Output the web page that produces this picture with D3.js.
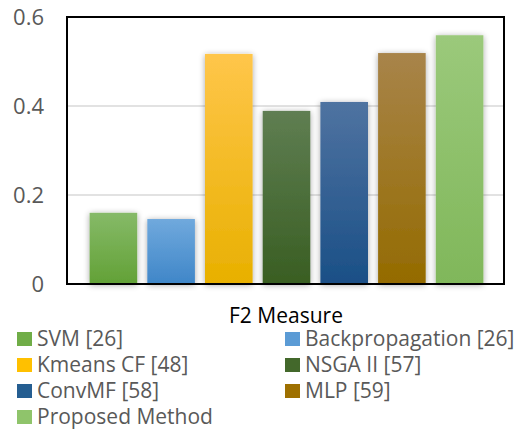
<!DOCTYPE html>
<html><head><meta charset="utf-8">
<script src="https://cdn.jsdelivr.net/npm/d3@7"></script>
<style>body{margin:0;background:#fff}svg{display:block}</style>
</head><body>
<svg id="chart" width="516" height="434"></svg>
<script>
const categories = ["SVM [26]","Backpropagation [26]","Kmeans CF [48]","NSGA II [57]","ConvMF [58]","MLP [59]","Proposed Method"];
const values = [0.16, 0.146, 0.517, 0.389, 0.409, 0.519, 0.559];
const yTicks = [0, 0.2, 0.4, 0.6];
const tickLabels = ["0","0.2","0.4","0.6"];
const xTitle = "F2 Measure";
const colorsTop = ["#86ba68","#70a9dd","#ffc64a","#5f7e52","#4f73a1","#a8844a","#9bc97b"];
const colorsBottom = ["#62a136","#3f86c8","#e8b000","#395e22","#1a4f86","#946b00","#80b75a"];
const legendColors = ["#70ad47","#5b9bd5","#ffc000","#43682b","#255e91","#9e7000","#8fc46b"];

const svg = d3.select("#chart");
const plot = {left:67, right:504, top:17, bottom:284};
const y = d3.scaleLinear().domain([0,0.6]).range([plot.bottom, plot.top]);
const x = d3.scaleBand().domain(categories).range([85,488]).paddingInner(0.175).paddingOuter(0.08);

const defs = svg.append("defs");
categories.forEach((c,i)=>{
  const g = defs.append("linearGradient").attr("id","g"+i).attr("x1",0).attr("y1",0).attr("x2",0).attr("y2",1);
  g.append("stop").attr("offset","0%").attr("stop-color",colorsTop[i]);
  g.append("stop").attr("offset","100%").attr("stop-color",colorsBottom[i]);
});
const f = defs.append("filter").attr("id","sh").attr("x","-30%").attr("y","-10%").attr("width","160%").attr("height","120%");
f.append("feGaussianBlur").attr("in","SourceAlpha").attr("stdDeviation",3).attr("result","b");
f.append("feOffset").attr("in","b").attr("dx",0).attr("dy",1).attr("result","o");
f.append("feComponentTransfer").attr("in","o").attr("result","o2").append("feFuncA").attr("type","linear").attr("slope",0.35);
const m = f.append("feMerge"); m.append("feMergeNode").attr("in","o2"); m.append("feMergeNode").attr("in","SourceGraphic");

// gridlines
svg.append("g").selectAll("line").data(yTicks.filter(t=>t>0 && t<0.6)).join("line")
  .attr("x1",plot.left).attr("x2",plot.right).attr("y1",d=>y(d)).attr("y2",d=>y(d))
  .attr("stroke","#d9d9d9").attr("stroke-width",1.5);

// bars
svg.append("g").selectAll("rect").data(values).join("rect")
  .attr("x",(d,i)=>x(categories[i])).attr("width",x.bandwidth())
  .attr("y",d=>y(d)).attr("height",d=>plot.bottom-y(d))
  .attr("fill",(d,i)=>"url(#g"+i+")").attr("filter","url(#sh)");

// plot border
svg.append("rect").attr("x",plot.left).attr("y",plot.top).attr("width",plot.right-plot.left).attr("height",plot.bottom-plot.top)
  .attr("fill","none").attr("stroke","#000").attr("stroke-width",2);

// y axis labels
const yAxis = d3.axisLeft(y).tickValues(yTicks).tickFormat((d,i)=>tickLabels[i]).tickSize(0).tickPadding(0);
const ga = svg.append("g").attr("transform","translate(44,0)").call(yAxis);
ga.select(".domain").remove();
ga.selectAll("text").attr("font-family","Open Sans, sans-serif").attr("font-size",22).attr("fill","#595959").attr("dy","0.35em");

// x title
svg.append("text").attr("x",286).attr("y",316).attr("dy","0.35em").attr("text-anchor","middle")
  .attr("font-family","Open Sans, sans-serif").attr("font-size",21).attr("fill","#000").text(xTitle);

// legend
const lg = svg.append("g");
categories.forEach((c,i)=>{
  const col = i%2, row = Math.floor(i/2);
  const lx = col===0 ? 17 : 285;
  const ly = 339 + row*26;
  lg.append("rect").attr("x",lx).attr("y",ly-7).attr("width",15).attr("height",14).attr("fill",legendColors[i]);
  lg.append("text").attr("x",lx+20).attr("y",ly).attr("dy","0.35em")
    .attr("font-family","Open Sans, sans-serif").attr("font-size",21).attr("fill","#595959").text(c);
});
</script>
</body></html>
